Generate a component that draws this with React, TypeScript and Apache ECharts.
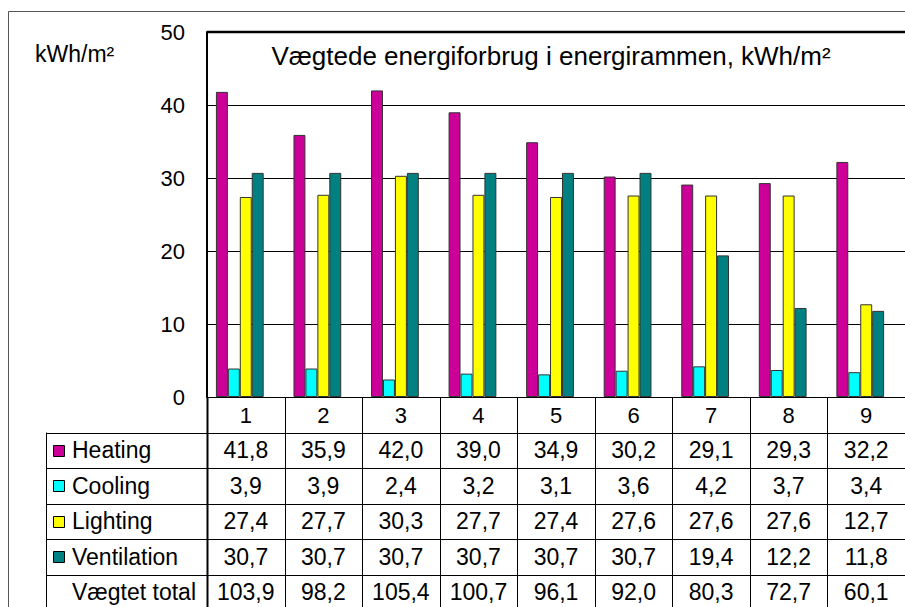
import React, { useEffect, useRef } from "react";
import * as echarts from "echarts";

const categories = ["1", "2", "3", "4", "5", "6", "7", "8", "9"];
const heating = [41.8, 35.9, 42.0, 39.0, 34.9, 30.2, 29.1, 29.3, 32.2];
const cooling = [3.9, 3.9, 2.4, 3.2, 3.1, 3.6, 4.2, 3.7, 3.4];
const lighting = [27.4, 27.7, 30.3, 27.7, 27.4, 27.6, 27.6, 27.6, 12.7];
const ventilation = [30.7, 30.7, 30.7, 30.7, 30.7, 30.7, 19.4, 12.2, 11.8];
const totals = [103.9, 98.2, 105.4, 100.7, 96.1, 92.0, 80.3, 72.7, 60.1];
const seriesNames = ["Heating", "Cooling", "Lighting", "Ventilation"];
const totalLabel = "Vægtet total";
const titleText = "Vægtede energiforbrug i energirammen, kWh/m²";
const unitText = "kWh/m²";
const yMin = 0;
const yMax = 50;
const yStep = 10;

const COLORS = ["#CC0099", "#00FFFF", "#FFFF00", "#008080"];
const FONT = "'Liberation Sans', Arial, sans-serif";

const fmt = (v: number) => v.toFixed(1).replace(".", ",");

export default function App() {
  const ref = useRef<HTMLDivElement>(null);

  useEffect(() => {
    if (!ref.current) return;
    const chart = echarts.init(ref.current, null, { renderer: "svg" });
    const seriesData = [heating, cooling, lighting, ventilation];

    const gridLeft = 207;
    const gridTop = 32;
    const gridHeight = 365;
    const gridWidth = 703;

    chart.setOption({
      animation: false,
      backgroundColor: "#fff",
      textStyle: { fontFamily: FONT },
      grid: { left: gridLeft, top: gridTop, width: gridWidth, height: gridHeight, containLabel: false },
      xAxis: {
        type: "category",
        data: categories,
        axisLine: { show: true, lineStyle: { color: "#000", width: 1 } },
        axisTick: { show: false },
        axisLabel: { color: "#000", fontSize: 22, margin: 7, fontFamily: FONT },
        splitLine: { show: false },
      },
      yAxis: {
        type: "value",
        min: yMin,
        max: yMax,
        interval: yStep,
        axisLine: { show: true, lineStyle: { color: "#000", width: 2 } },
        axisTick: { show: false },
        axisLabel: { color: "#000", fontSize: 22, margin: 22, fontFamily: FONT },
        splitLine: { show: true, lineStyle: { color: "#000", width: 1 } },
      },
      series: [
        ...seriesNames.map((name, i) => ({
          name,
          type: "bar",
          data: seriesData[i],
          barGap: "0%",
          barCategoryGap: "23%",
          itemStyle: { color: COLORS[i], borderColor: "#333", borderWidth: 1 },
          silent: true,
        })),
        {
          name: totalLabel,
          type: "bar",
          data: totals,
          barGap: "0%",
          barCategoryGap: "23%",
          itemStyle: { color: "rgba(0,0,0,0)", borderWidth: 0 },
          silent: true,
        },
      ],
    });

    const centers = categories.map((_, i) => chart.convertToPixel({ xAxisIndex: 0 }, i) as number);
    const band = centers.length > 1 ? centers[1] - centers[0] : 78;
    const zeroY = chart.convertToPixel({ yAxisIndex: 0 }, 0) as number;

    const rowH = 35.5;
    const tableLeft = 46;
    const rowTops = [0, 1, 2, 3, 4, 5, 6].map((k) => zeroY + k * rowH);
    const rightEdge = centers[centers.length - 1] + band / 2;
    const lines: any[] = [];
    const lineStyle = { stroke: "#000", lineWidth: 1 };

    for (let k = 1; k < rowTops.length; k++) {
      lines.push({
        type: "line",
        shape: { x1: tableLeft, y1: Math.round(rowTops[k]) + 0.5, x2: rightEdge, y2: Math.round(rowTops[k]) + 0.5 },
        style: lineStyle,
        silent: true,
      });
    }
    for (let i = 0; i <= categories.length; i++) {
      const x = Math.round(centers[0] - band / 2 + i * band) + 0.5;
      lines.push({
        type: "line",
        shape: { x1: x, y1: zeroY, x2: x, y2: rowTops[6] },
        style: i === 0 ? { stroke: "#000", lineWidth: 2 } : lineStyle,
        silent: true,
      });
    }
    lines.push({
      type: "line",
      shape: { x1: tableLeft + 0.5, y1: rowTops[1], x2: tableLeft + 0.5, y2: rowTops[6] },
      style: lineStyle,
      silent: true,
    });

    const texts: any[] = [];
    const rowValues = [heating, cooling, lighting, ventilation, totals];
    const rowLabels = [...seriesNames, totalLabel];
    rowLabels.forEach((lab, r) => {
      const cy = rowTops[r + 1] + rowH / 2;
      if (r < 4) {
        texts.push({
          type: "rect",
          shape: { x: 53.5, y: Math.round(cy - 5.5) + 0.5, width: 11, height: 11 },
          style: { fill: COLORS[r], stroke: "#000", lineWidth: 1 },
          silent: true,
        });
      }
      texts.push({
        type: "text",
        x: 72,
        y: cy,
        style: { text: lab, fontSize: 23, fontFamily: FONT, fill: "#000", align: "left", verticalAlign: "middle" },
        silent: true,
      });
      rowValues[r].forEach((v, i) => {
        texts.push({
          type: "text",
          x: centers[i],
          y: cy,
          style: { text: fmt(v), fontSize: 23, fontFamily: FONT, fill: "#000", align: "center", verticalAlign: "middle" },
          silent: true,
        });
      });
    });

    chart.setOption({
      graphic: [
        {
          type: "rect",
          shape: { x: 8.5, y: 11.5, width: 1000, height: 1000 },
          style: { fill: "none", stroke: "#555", lineWidth: 1 },
          silent: true,
          z: -1,
        },
        {
          type: "line",
          shape: { x1: gridLeft, y1: gridTop, x2: rightEdge, y2: gridTop },
          style: { stroke: "#000", lineWidth: 2.5 },
          silent: true,
        },
        {
          type: "text",
          x: 35,
          y: 54,
          style: { text: unitText, fontSize: 23, fontFamily: FONT, fill: "#000", align: "left", verticalAlign: "middle" },
          silent: true,
        },
        {
          type: "text",
          x: 551,
          y: 56,
          style: { text: titleText, fontSize: 26, fontFamily: FONT, fill: "#000", align: "center", verticalAlign: "middle" },
          silent: true,
        },
        ...lines,
        ...texts,
      ],
    });

    return () => chart.dispose();
  }, []);

  return (
    <div
      ref={ref}
      style={{ position: "fixed", left: 0, top: 0, width: 905, height: 607, background: "#fff" }}
    />
  );
}
